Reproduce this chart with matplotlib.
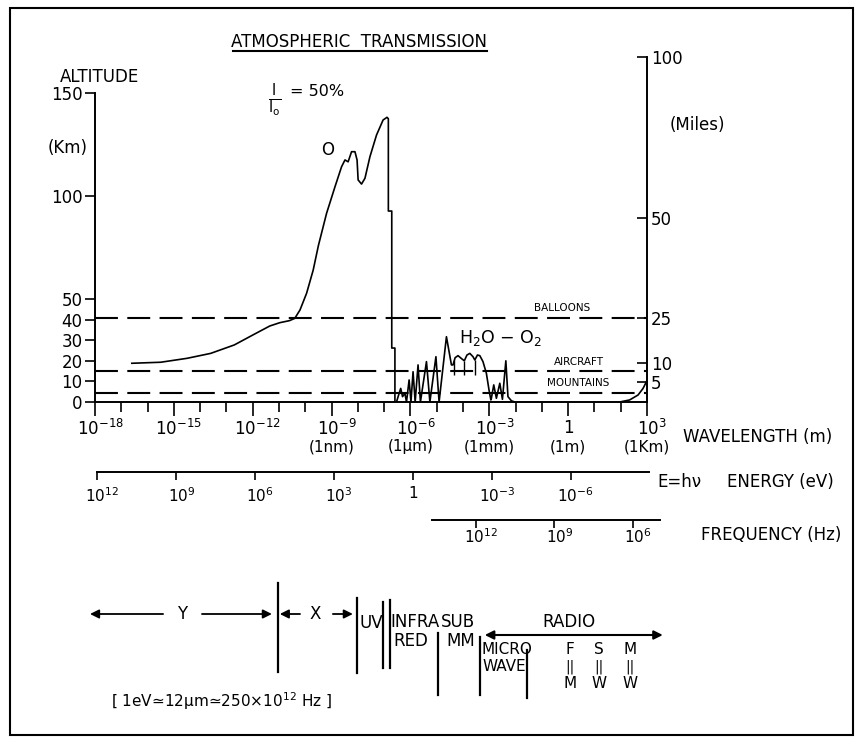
import numpy as np
import matplotlib
matplotlib.use("Agg")
import matplotlib.pyplot as plt
from matplotlib.ticker import FixedLocator, NullFormatter, NullLocator
from matplotlib.patches import Rectangle
from matplotlib.lines import Line2D
from matplotlib.transforms import ScaledTranslation

plt.rcParams['font.family'] = ['DejaVu Sans']
plt.rcParams['mathtext.fontset'] = 'dejavusans'

# ---------------- data (log10 wavelength in m, altitude in km) ----------------
o_loglam = [-16.6, -15.5, -14.5, -13.6, -12.7, -12.0, -11.35, -10.97, -10.6, -10.4,
            -10.2, -9.95, -9.7, -9.5, -9.19, -8.87, -8.62, -8.49, -8.37, -8.24,
            -8.11, -8.03, -7.99, -7.86, -7.73, -7.54, -7.29, -7.04, -6.89, -6.84,
            -6.84, -6.71, -6.71, -6.59, -6.59]
o_alt = [18.8, 19.3, 21.2, 23.6, 27.7, 32.5, 36.9, 38.5, 39.5, 40.6,
         44.7, 52.8, 64.0, 76.0, 91.6, 104.5, 114.2, 117.5, 116.6, 121.5,
         121.5, 117.5, 107.8, 105.8, 108.6, 119.1, 129.6, 136.9, 138.2, 137.5,
         92.7, 92.7, 26.2, 26.2, 0.0]

h2o_loglam = [-6.59, -6.53, -6.43, -6.37, -6.30, -6.21, -6.15, -6.05, -5.98, -5.90,
              -5.82, -5.71, -5.62, -5.39, -5.26, -5.03, -4.91, -4.63, -4.44, -4.38,
              -4.30, -4.19, -4.05, -3.95, -3.85, -3.74, -3.62, -3.55, -3.45, -3.36,
              -3.24, -3.11, -3.01, -2.94, -2.92, -2.83, -2.73, -2.60, -2.50, -2.37,
              -2.29, -2.16, -2.03]
h2o_alt = [0.0, 0.0, 4.2, 6.6, 2.6, 4.2, 0.0, 10.7, 0.0, 14.7,
           0.0, 18.0, 0.0, 19.6, 0.0, 22.0, 0.0, 31.7, 18.0, 18.0,
           21.5, 22.5, 21.0, 20.0, 22.8, 23.6, 22.0, 20.4, 22.8, 22.5,
           19.6, 13.9, 5.8, 1.0, 1.8, 8.3, 1.8, 9.1, 1.3, 20.0,
           2.6, 0.6, 0.0]
h2o_mark_loglam = [-4.33, -3.95, -3.55]
h2o_mark_top = [20.5, 20.0, 20.4]
h2o_mark_bottom = [13.0, 13.0, 13.0]

radio_loglam = [1.96, 2.34, 2.66, 2.85, 2.98]
radio_alt = [0.0, 1.0, 3.4, 6.6, 9.9]

ref_levels = [41.0, 15.0, 4.5]
ref_names = ['BALLOONS', 'AIRCRAFT', 'MOUNTAINS']
ref_label_loglam = [-0.24, 0.40, 0.37]

alt_ticks = [0, 10, 20, 30, 40, 50, 100, 150]
mile_ticks = [5, 10, 25, 50, 100]
# hand-drawn calibration of the miles scale against the km scale
mi_knots = [0, 5, 10, 25, 50, 100, 200]
km_knots = [0, 9.7, 18.9, 40.8, 89.3, 167.5, 340]

wl_ticks = [1e-18, 1e-15, 1e-12, 1e-9, 1e-6, 1e-3, 1, 1e3]
wl_labels = ['$10^{-18}$', '$10^{-15}$', '$10^{-12}$', '$10^{-9}$', '$10^{-6}$',
             '$10^{-3}$', '1', '$10^{3}$']
wl_names_ticks = [1e-9, 1e-6, 1e-3, 1, 1e3]
wl_names = ['(1nm)', '(1\u00b5m)', '(1mm)', '(1m)', '(1Km)']

e_ticks = [1e12, 1e9, 1e6, 1e3, 1, 1e-3, 1e-6, 1e-9]
e_labels = ['$10^{12}$', '$10^{9}$', '$10^{6}$', '$10^{3}$', '1', '$10^{-3}$', '$10^{-6}$', '']
f_ticks = [1e12, 1e9, 1e6]
f_labels = ['$10^{12}$', '$10^{9}$', '$10^{6}$']

# spectral band boundaries (log10 wavelength)
band_bounds = [-11.04, -8.04, -7.05, -6.78, -4.96, -3.36, -1.57]

HC = 1.2398e-6   # eV m
C = 2.998e8      # m/s

# ---------------- figure ----------------
W, H = 855, 742
fig = plt.figure(figsize=(W / 100, H / 100), dpi=100)
fig.patch.set_facecolor('white')


def fx(px):
    return px / W


def fy(py):
    return 1 - py / H


ax_top_px = 51.8
ax = fig.add_axes([fx(95), fy(402), fx(647) - fx(95), fy(ax_top_px) - fy(402)])
ax.set_xscale('log')
ax.set_xlim(1e-18, 1e3)
ax.set_ylim(0, 170)
ax.patch.set_alpha(0)

LW = 1.2
ax.plot(10.0 ** np.array(o_loglam), o_alt, color='k', lw=LW)
ax.plot(10.0 ** np.array(h2o_loglam), h2o_alt, color='k', lw=LW)
ax.vlines(10.0 ** np.array(h2o_mark_loglam), h2o_mark_bottom, h2o_mark_top, color='k', lw=1.0)
ax.plot(10.0 ** np.array(radio_loglam), radio_alt, color='k', lw=LW, clip_on=False)
ax.hlines(ref_levels, 1e-18, 1e3, colors='k', lw=1.5, linestyles=(0, (11, 4.5)))
for lv, nm, lx in zip(ref_levels, ref_names, ref_label_loglam):
    ax.text(10.0 ** lx, lv + 2.2, nm, ha='center', va='bottom', fontsize=7.5)

ax.text(10.0 ** -9.14, 122.3, 'O', ha='center', va='center', fontsize=12)
ax.text(10.0 ** -2.56, 31.0, 'H$_2$O $-$ O$_2$', ha='center', va='center', fontsize=12.5)
ax.text(10.0 ** -11.16, 146.5, r'$\frac{\mathrm{I}}{\mathrm{I_o}}$', ha='center', va='center', fontsize=15)
ax.text(10.0 ** -10.6, 150.5, '= 50%', ha='left', va='center', fontsize=11.5)

# spines / ticks
for s in ['top', 'right']:
    ax.spines[s].set_visible(False)
ax.spines['left'].set_bounds(0, 150)
ax.spines['left'].set_linewidth(1.4)
ax.spines['bottom'].set_linewidth(1.4)
ax.set_yticks(alt_ticks)
ax.set_yticklabels([str(t) for t in alt_ticks])
ax.tick_params(axis='y', direction='out', length=7, width=1.2, labelsize=12, pad=2)

ax.xaxis.set_major_locator(FixedLocator(wl_ticks))
ax.xaxis.set_minor_locator(FixedLocator(10.0 ** np.arange(-18, 4)))
ax.xaxis.set_minor_formatter(NullFormatter())
ax.set_xticklabels(wl_labels)
ax.tick_params(axis='x', which='major', direction='out', length=10, width=1.2, labelsize=12, pad=2)
ax.tick_params(axis='x', which='minor', direction='out', length=7, width=1.2)

# right miles axis
sec = ax.secondary_yaxis('right', functions=(lambda k: np.interp(k, km_knots, mi_knots),
                                             lambda m: np.interp(m, mi_knots, km_knots)))
sec.set_yticks(mile_ticks)
sec.set_yticklabels([str(t) for t in mile_ticks])
sec.spines['right'].set_bounds(0, 100)
sec.spines['right'].set_linewidth(1.4)
sec.tick_params(direction='in', length=7, width=1.2, labelsize=12, pad=3)

# wavelength names below the exponents
names = ax.secondary_xaxis('bottom')
names.set_xticks(wl_names_ticks)
names.set_xticklabels(wl_names)
names.xaxis.set_minor_locator(NullLocator())
names.spines['bottom'].set_visible(False)
names.tick_params(axis='x', length=0, pad=27, labelsize=11)


def lam2e(l):
    l = np.asarray(l, dtype=float)
    with np.errstate(divide='ignore'):
        return HC / l


def lam2f(l):
    l = np.asarray(l, dtype=float)
    with np.errstate(divide='ignore'):
        return C / l


axh = 402 - ax_top_px
ax_e = ax.secondary_xaxis(-(472 - 402) / axh, functions=(lam2e, lam2e))
ax_e.set_xticks(e_ticks)
ax_e.set_xticklabels(e_labels)
ax_e.xaxis.set_minor_locator(NullLocator())
ax_e.spines['bottom'].set_bounds(1e-9, 1e12)
ax_e.spines['bottom'].set_linewidth(1.4)
ax_e.tick_params(axis='x', direction='out', length=6, width=1.2, labelsize=11, pad=4)

ax_f = ax.secondary_xaxis(-(520 - 402) / axh, functions=(lam2f, lam2f))
ax_f.set_xticks(f_ticks)
ax_f.set_xticklabels(f_labels)
ax_f.xaxis.set_minor_locator(NullLocator())
ax_f.spines['bottom'].set_bounds(1e5, 4.7e13)
ax_f.spines['bottom'].set_linewidth(1.4)
ax_f.tick_params(axis='x', direction='out', length=6, width=1.2, labelsize=11, pad=-1)

# ---------------- band diagram ----------------
axb = fig.add_axes([fx(95), fy(710), fx(647) - fx(95), fy(575) - fy(710)])
axb.set_xscale('log')
axb.set_xlim(1e-18, 1e3)
axb.set_ylim(710, 575)
axb.axis('off')


def L(v):
    return 10.0 ** v


band_line_spans = [(583, 672), (598, 673), (602, 668), (600, 668), (633, 695), (637, 695), (650, 698)]
for b, (y0, y1) in zip(band_bounds, band_line_spans):
    axb.plot([L(b), L(b)], [y0, y1], color='k', lw=1.6, clip_on=False)

arrow_kw = dict(arrowstyle='-|>', lw=1.3, color='k', mutation_scale=13, shrinkA=0, shrinkB=0)
for tail, head in [(-15.41, -18.19), (-13.93, -11.27), (-10.2, -10.97), (-8.95, -8.19)]:
    axb.annotate('', xy=(L(head), 614), xytext=(L(tail), 614), arrowprops=arrow_kw,
                 annotation_clip=False)
axb.annotate('', xy=(L(-3.17), 635), xytext=(L(3.6), 635),
             arrowprops=dict(arrowstyle='<|-|>', lw=1.5, color='k', mutation_scale=13,
                             shrinkA=0, shrinkB=0), annotation_clip=False)

tk = dict(ha='center', va='center', fontsize=12)
axb.text(L(-14.69), 614, 'Y', **tk)
axb.text(L(-9.63), 614, 'X', **tk)
axb.text(L(-7.5), 623, 'UV', **tk)
axb.text(L(-5.83), 622, 'INFRA', **tk)
axb.text(L(-5.98), 641, 'RED', **tk)
axb.text(L(-4.2), 622, 'SUB', **tk)
axb.text(L(-4.08), 641, 'MM', **tk)
axb.text(L(-3.3), 650, 'MICRO', ha='left', va='center', fontsize=11)
axb.text(L(-3.26), 667, 'WAVE', ha='left', va='center', fontsize=11)
axb.text(L(0.02), 622, 'RADIO', **tk)
for lx, top, bot in [(0.06, 'F', 'M'), (1.16, 'S', 'W'), (2.34, 'M', 'W')]:
    axb.text(L(lx), 650, top, ha='center', va='center', fontsize=11)
    axb.text(L(lx), 667, '||', ha='center', va='center', fontsize=10)
    axb.text(L(lx), 684, bot, ha='center', va='center', fontsize=11)
axb.text(L(-13.2), 701, '[ 1eV\u224312\u00b5m\u2243250\u00d710$^{12}$ Hz ]', ha='center', va='center', fontsize=11)

# ---------------- titles and side labels ----------------
fig.text(fx(359), fy(42), 'ATMOSPHERIC  TRANSMISSION', ha='center', va='center', fontsize=12)
fig.add_artist(Line2D([fx(233), fx(487)], [fy(51), fy(51)], color='k', lw=1.5))
fig.text(fx(60), fy(77), 'ALTITUDE', ha='left', va='center', fontsize=12)
fig.text(fx(88), fy(148), '(Km)', ha='right', va='center', fontsize=12)
fig.text(fx(697), fy(125), '(Miles)', ha='center', va='center', fontsize=12)
fig.text(fx(758), fy(437), 'WAVELENGTH (m)', ha='center', va='center', fontsize=12)
fig.text(fx(679), fy(482), 'E=h\u03bd', ha='center', va='center', fontsize=12)
fig.text(fx(780), fy(482), 'ENERGY (eV)', ha='center', va='center', fontsize=12)
fig.text(fx(771), fy(535), 'FREQUENCY (Hz)', ha='center', va='center', fontsize=12)

fig.add_artist(Rectangle((fx(10), fy(735)), fx(853) - fx(10), fy(8) - fy(735),
                         transform=fig.transFigure, fill=False, lw=1.5, edgecolor='k'))

# put the "10" of each power label under its tick (exponent hangs to the right)
shift = ScaledTranslation(5 / 100, 0, fig.dpi_scale_trans)
for a in [ax, ax_e, ax_f]:
    for lbl in a.xaxis.get_ticklabels():
        if '^' in lbl.get_text():
            lbl.set_transform(lbl.get_transform() + shift)

fig.savefig('out.png', dpi=100, facecolor='white')
